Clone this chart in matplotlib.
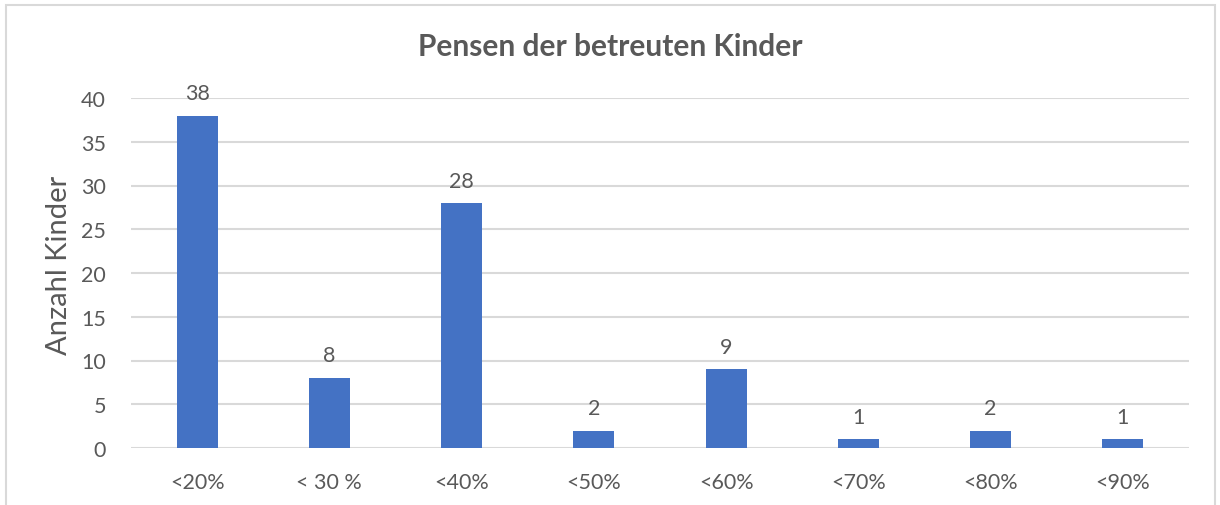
import matplotlib
matplotlib.use("Agg")
import matplotlib.pyplot as plt
from matplotlib.patches import Rectangle

categories = ["<20%", "< 30 %", "<40%", "<50%", "<60%", "<70%", "<80%", "<90%"]
values = [38, 8, 28, 2, 9, 1, 2, 1]
yticks = [0, 5, 10, 15, 20, 25, 30, 35, 40]

plt.rcParams['font.family'] = ['Lato', 'DejaVu Sans']
gray = '#595959'
grid = '#D9D9D9'
blue = '#4472C4'

fig = plt.figure(figsize=(12.2, 5.06), dpi=100)
ax = fig.add_axes([131/1220, 1-449/506, 1058/1220, 350/506])

x = list(range(len(categories)))
bars = ax.bar(x, values, width=0.31, color=blue, zorder=3)
for xi, v in zip(x, values):
    ax.annotate(str(v), (xi, v), xytext=(0, 9), textcoords='offset points',
                ha='center', va='bottom', fontsize=15.5, color=gray)

ax.set_xlim(-0.5, len(categories) - 0.5)
ax.set_ylim(0, 40)
ax.set_yticks(yticks)
ax.set_xticks(x)
ax.set_xticklabels(categories)
ax.yaxis.grid(True, color=grid, linewidth=1.5, zorder=0)
ax.set_axisbelow(True)
for s in ax.spines.values():
    s.set_visible(False)
ax.tick_params(axis='both', length=0, labelsize=15.5, colors=gray)
ax.tick_params(axis='x', pad=17)
ax.tick_params(axis='y', pad=18)
ax.set_ylabel("Anzahl Kinder", fontsize=21, color=gray)
ax.yaxis.set_label_coords(-0.056, 0.525)

fig.text(0.5, 1-47/506, "Pensen der betreuten Kinder", ha='center', va='center',
         fontsize=21.5, fontweight='bold', color=gray)

# outer chart border
fig.add_artist(Rectangle((6/1220, -0.1), (1215-6)/1220, 1.1 - 6/506,
                         transform=fig.transFigure, fill=False,
                         edgecolor=grid, linewidth=1.5))

fig.savefig("out.png", dpi=100)
